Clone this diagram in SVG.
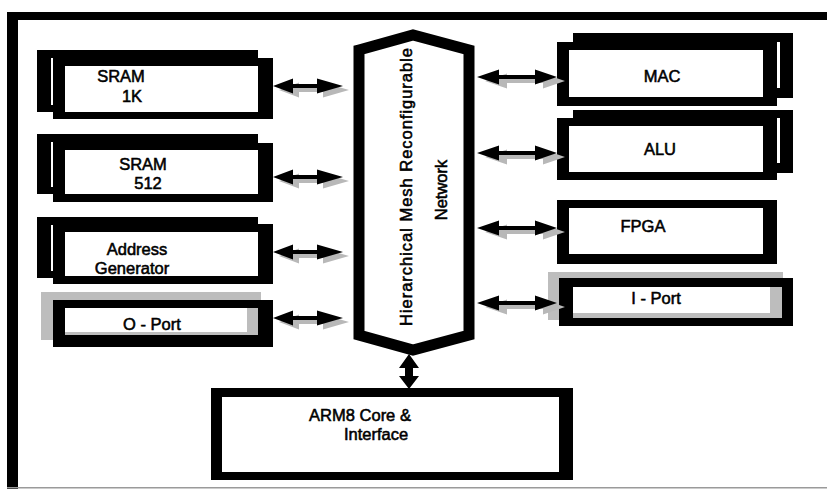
<svg xmlns="http://www.w3.org/2000/svg" width="827" height="489" viewBox="0 0 827 489">
<style>
.blk{fill:#000}
.wht{fill:#fff}
.gry{fill:#bdbdbd}
.lbl{font-family:"Liberation Sans",Arial,sans-serif;font-size:16.5px;fill:#000;stroke:#000;stroke-width:0.55;text-anchor:middle}
.shadow{fill:#b8b8b8}
</style>
<defs>
<path id="arrL" d="M0,0 L20,-7.5 L20,-2 L44,-2 L44,-7.5 L70,0 L44,7.5 L44,2 L20,2 L20,7.5 Z"/>
<path id="arrR" d="M0,0 L22,-7.5 L22,-2 L58,-2 L58,-7.5 L80,0 L58,7.5 L58,2 L22,2 L22,7.5 Z"/>
</defs>
<rect width="827" height="489" fill="#fff"/>
<g id="frame">
<rect x="7" y="12" width="820" height="8" class="blk"/>
<rect x="7" y="12" width="11" height="477" class="blk"/>
<rect x="7" y="487" width="820" height="1.5" fill="#9a9a9a"/>
</g>
<g id="sram1k">
<rect x="37" y="50" width="221" height="62" class="blk"/>
<rect x="51" y="58" width="2" height="47" class="wht"/>
<rect x="53" y="58" width="220" height="61" class="blk"/>
<rect x="65" y="66" width="193" height="46" class="wht"/>
<text class="lbl" x="121" y="82">SRAM</text>
<text class="lbl" x="132" y="102">1K</text>
</g>
<g id="sram512">
<rect x="37" y="134" width="221" height="60" class="blk"/>
<rect x="51" y="142" width="2" height="45" class="wht"/>
<rect x="53" y="143" width="220" height="59" class="blk"/>
<rect x="65" y="150" width="193" height="44" class="wht"/>
<text class="lbl" x="143" y="170">SRAM</text>
<text class="lbl" x="148" y="189">512</text>
</g>
<g id="addrgen">
<rect x="37" y="217" width="221" height="61" class="blk"/>
<rect x="51" y="225" width="2" height="46" class="wht"/>
<rect x="53" y="224" width="220" height="60" class="blk"/>
<rect x="65" y="232" width="193" height="44" class="wht"/>
<text class="lbl" x="137" y="255">Address</text>
<text class="lbl" x="132" y="274">Generator</text>
</g>
<g id="oport">
<rect x="41" y="292" width="220" height="48" class="gry"/>
<rect x="53" y="300" width="220" height="47" class="blk"/>
<rect x="65" y="308" width="193" height="27" class="gry"/>
<rect x="65" y="308" width="182" height="24" class="wht"/>
<text class="lbl" x="152" y="330">O  - Port</text>
</g>
<g id="mac">
<rect x="573" y="33" width="220" height="65" class="blk"/>
<rect x="557" y="42" width="220" height="64" class="blk"/>
<rect x="777" y="42" width="3" height="46" class="wht"/>
<rect x="569" y="50" width="194" height="47" class="wht"/>
<text class="lbl" x="662" y="82">MAC</text>
</g>
<g id="alu">
<rect x="573" y="110" width="220" height="63" class="blk"/>
<rect x="557" y="118" width="220" height="62" class="blk"/>
<rect x="777" y="118" width="3" height="45" class="wht"/>
<rect x="569" y="126" width="194" height="46" class="wht"/>
<text class="lbl" x="660" y="155">ALU</text>
</g>
<g id="fpga">
<rect x="557" y="200" width="220" height="64" class="blk"/>
<rect x="569" y="208" width="194" height="46" class="wht"/>
<text class="lbl" x="643" y="232">FPGA</text>
</g>
<g id="iport">
<rect x="548" y="272" width="235" height="48" class="gry"/>
<rect x="559" y="278" width="234" height="48" class="blk"/>
<rect x="573" y="287" width="209" height="31" class="gry"/>
<rect x="573" y="287" width="197" height="26" class="wht"/>
<text class="lbl" x="656" y="304">I - Port</text>
</g>
<g id="network">
<path d="M359,50 L413,35 L469,50 L469,335 L413,350 L359,335 Z" fill="#fff" stroke="#000" stroke-width="11" stroke-linejoin="miter"/>
<text class="lbl" transform="translate(412,187) rotate(-90)" textLength="278" lengthAdjust="spacing">Hierarchical  Mesh Reconfigurable</text>
<text class="lbl" transform="translate(447,190) rotate(-90)">Network</text>
</g>
<g id="arm8">
<rect x="211" y="388" width="362" height="92" class="blk"/>
<rect x="222" y="397" width="337" height="75" class="wht"/>
<text class="lbl" x="360" y="421">ARM8 Core &amp;</text>
<text class="lbl" x="376" y="440">Interface</text>
</g>
<g id="connectors">
<g class="shadow">
<use href="#arrL" transform="translate(279,90)"/>
<use href="#arrL" transform="translate(279,181)"/>
<use href="#arrL" transform="translate(279,256)"/>
<use href="#arrL" transform="translate(279,322)"/>
<use href="#arrR" transform="translate(485,81)"/>
<use href="#arrR" transform="translate(485,157)"/>
<use href="#arrR" transform="translate(485,232)"/>
<use href="#arrR" transform="translate(485,307)"/>
</g>
<g class="blk">
<use href="#arrL" transform="translate(273,86)"/>
<use href="#arrL" transform="translate(273,177)"/>
<use href="#arrL" transform="translate(273,252)"/>
<use href="#arrL" transform="translate(273,318)"/>
<use href="#arrR" transform="translate(477,77)"/>
<use href="#arrR" transform="translate(477,153)"/>
<use href="#arrR" transform="translate(477,228)"/>
<use href="#arrR" transform="translate(477,303)"/>
<path d="M409,354 L419,368 L413,368 L413,376 L419,376 L409,389 L399,376 L405,376 L405,368 L399,368 Z"/>
</g>
</g>
</svg>
